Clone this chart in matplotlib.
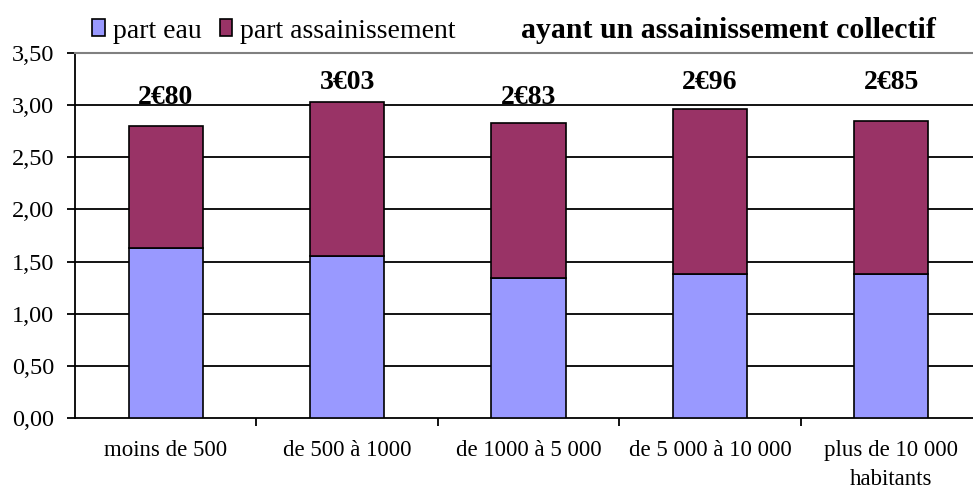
import numpy as np
import matplotlib.pyplot as plt
from matplotlib.patches import Patch

plt.rcParams['font.family'] = ['Liberation Serif', 'DejaVu Serif']

# data
categories = ['moins de 500', 'de 500 à 1000', 'de 1000 à 5 000',
              'de 5 000 à 10 000', 'plus de 10 000\nhabitants']
part_eau = [1.63, 1.55, 1.34, 1.38, 1.38]
totals = [2.80, 3.03, 2.83, 2.96, 2.85]
part_assain = [t - e for t, e in zip(totals, part_eau)]
total_labels = ['2€80', '3€03', '2€83', '2€96', '2€85']
label_y = [3.07, 3.22, 3.07, 3.22, 3.22]

blue = '#9999FF'
purple = '#993366'

fig = plt.figure(figsize=(9.73, 4.91), dpi=100)
ax = fig.add_axes([75/973, 1 - 418/491, 907/973, 365/491])

x = np.arange(len(categories))
ax.bar(x, part_eau, width=0.41, color=blue, edgecolor='black', linewidth=1.2, zorder=3)
ax.bar(x, part_assain, bottom=part_eau, width=0.41, color=purple,
       edgecolor='black', linewidth=1.2, zorder=3)

for xi, yi, lab in zip(x, label_y, total_labels):
    ax.text(xi, yi, lab, ha='center', va='center', fontsize=20, fontweight='bold', zorder=4)

ax.set_xlim(-0.5, len(categories) - 0.5)
ax.set_ylim(0, 3.5)
yt = np.arange(0, 3.51, 0.5)
ax.set_yticks(yt)
ax.set_yticklabels([f'{v:.2f}'.replace('.', ',') for v in yt], fontsize=17.5)
for v in np.arange(0.5, 3.01, 0.5):
    ax.axhline(v, color='black', linewidth=1.3, zorder=1)

ax.set_xticks(x)
ax.set_xticklabels(categories, fontsize=16.5, linespacing=1.5)
ax.set_xticks(np.arange(0.5, len(categories) - 0.5, 1), minor=True)
ax.tick_params(axis='x', which='major', length=0, pad=16)
ax.tick_params(axis='x', which='minor', length=6, width=1.3, direction='out')
ax.tick_params(axis='y', length=6, width=1.3, direction='out', pad=9)

ax.spines['right'].set_visible(False)
ax.spines['top'].set_color('#808080')
ax.spines['top'].set_linewidth(1.5)
ax.spines['left'].set_linewidth(1.3)
ax.spines['bottom'].set_linewidth(1.3)

handles = [Patch(facecolor=blue, edgecolor='black', linewidth=1.2),
           Patch(facecolor=purple, edgecolor='black', linewidth=1.2)]
fig.legend(handles, ['part eau', 'part assainissement'], loc='center left',
           bbox_to_anchor=(92/973, 1 - 31/491), ncol=2, frameon=False,
           fontsize=20, handlelength=0.45, handleheight=0.55, handletextpad=0.3,
           columnspacing=0.65, borderaxespad=0, borderpad=0)

fig.text(728/973, 1 - 30/491, 'ayant un assainissement collectif', ha='center', va='center',
         fontsize=21.5, fontweight='bold')

fig.savefig('out.png', dpi=100)
